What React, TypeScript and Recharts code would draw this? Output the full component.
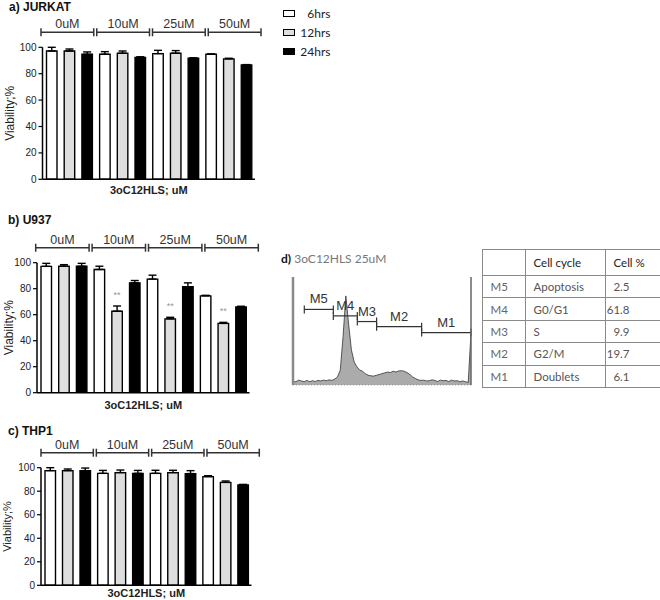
import React from 'react';
import {
  BarChart, Bar, XAxis, YAxis, ErrorBar, LabelList, Legend,
  AreaChart, Area, ReferenceLine,
} from 'recharts';

// ---------- data ----------
const concentrations = ['0uM', '10uM', '25uM', '50uM'];
const timeLabels = ['6hrs', '12hrs', '24hrs'];
const yTicks = [0, 20, 40, 60, 80, 100];

const jurkat6h = [97.2, 94.7, 95.2, 94.7];
const jurkat6hErr = [2.8, 2.0, 2.5, 0.3];
const jurkat12h = [97.2, 95.5, 95.5, 91.2];
const jurkat12hErr = [1.5, 1.7, 2.0, 0.5];
const jurkat24h = [94.7, 92.4, 91.7, 86.6];
const jurkat24hErr = [1.8, 0.4, 0.3, 0.3];

const u937_6h = [97.2, 94.8, 87.4, 74.5];
const u937_6hErr = [2.3, 2.5, 3.0, 0.4];
const u937_12h = [97.3, 62.7, 56.8, 53.3];
const u937_12hErr = [1.2, 4.0, 1.2, 0.8];
const u937_24h = [97.3, 84.5, 81.5, 66.0];
const u937_24hErr = [2.2, 1.8, 3.0, 0.5];
const u937_12hSig = ['', '**', '**', '**'];

const thp1_6h = [97.5, 95.2, 95.2, 92.4];
const thp1_6hErr = [2.5, 2.5, 2.6, 0.8];
const thp1_12h = [97.5, 95.8, 95.8, 87.5];
const thp1_12hErr = [1.4, 2.2, 2.0, 1.2];
const thp1_24h = [97.5, 95.2, 95.0, 85.3];
const thp1_24hErr = [2.2, 2.5, 2.5, 0.5];

// histogram (d): counts per bin of 16 channels, channels 0..1024
const histBinWidth = 16;
const histCounts = [
  14, 12, 18, 15, 12, 17, 12, 16, 13, 17, 15, 18, 16, 19, 17, 22,
  30, 55, 180, 330, 225, 130, 85, 67, 55, 51, 42, 36, 34, 33, 36, 39,
  42, 45, 48, 46, 51, 48, 52, 53, 51, 46, 39, 30, 24, 19, 17, 18,
  15, 16, 19, 17, 13, 18, 16, 17, 13, 18, 15, 16, 12, 15, 12, 10, 194,
];
const markerNames = ['M5', 'M4', 'M3', 'M2', 'M1'];
const markerStart = [65, 232, 370, 481, 740];
const markerEnd = [232, 370, 481, 740, 1024];
const markerLevel = [280, 256, 235, 216, 194];

const phaseNames = ['Apoptosis', 'G0/G1', 'S', 'G2/M', 'Doublets'];
const phasePercent = ['2.5', '61.8', '9.9', '19.7', '6.1'];

// ---------- styles ----------
const FILLS = ['#ffffff', '#dedede', '#000000'];
const SANS = '"Liberation Sans", Arial, sans-serif';
const CAL = 'Lato, "Open Sans", sans-serif';

const buildRows = (a: number[], ae: number[], b: number[], be: number[], c: number[], ce: number[], sig?: string[]) =>
  concentrations.map((conc, i) => ({
    conc,
    h6: a[i], e6: [0, ae[i]],
    h12: b[i], e12: [0, be[i]],
    h24: c[i], e24: [0, ce[i]],
    sig: sig ? sig[i] : '',
  }));

const jurkatRows = buildRows(jurkat6h, jurkat6hErr, jurkat12h, jurkat12hErr, jurkat24h, jurkat24hErr);
const u937Rows = buildRows(u937_6h, u937_6hErr, u937_12h, u937_12hErr, u937_24h, u937_24hErr, u937_12hSig);
const thp1Rows = buildRows(thp1_6h, thp1_6hErr, thp1_12h, thp1_12hErr, thp1_24h, thp1_24hErr);

const histData = histCounts.map((count, i) => ({ channel: i * histBinWidth, count }));

const renderLegend = () => (
  <div style={{ fontFamily: CAL, fontSize: 12, color: '#222' }}>
    {timeLabels.map((t, i) => (
      <div key={t} style={{ display: 'flex', alignItems: 'center', height: 19 }}>
        <span style={{ display: 'inline-block', width: 10, height: 5, border: '1.5px solid #000', background: FILLS[i] }} />
        <span style={{ display: 'inline-block', width: 36, textAlign: 'right' }}>{t}</span>
      </div>
    ))}
  </div>
);

type PanelProps = {
  rows: any[]; top: number; width: number; height: number;
  plotLeft: number; plotRight: number; plotTop: number; plotBottom: number;
  bracketStart: number; bracketEnd: number; barGap: number;
  xLabelDy: number; yLabelX: number; yLabelSize: number;
  errs12?: number[]; legend?: boolean;
};

function ViabilityPanel(p: PanelProps) {
  const topAxisH = p.plotTop - p.top;
  const bottomAxisH = p.height - (p.plotBottom - p.top);
  const padLeft = -(p.plotLeft - (p.bracketStart - 1.5));
  const padRight = -((p.bracketEnd + 1.5) - p.plotRight);
  const half = ((p.bracketEnd + 1.5) - (p.bracketStart - 1.5)) / 8;
  const plotH = p.plotBottom - p.plotTop;

  const bracketTick = (t: any) => {
    const { x, y, payload } = t;
    const by = y - 15;
    const x1 = x - half + 1.5;
    const x2 = x + half - 1.5;
    return (
      <g>
        <line x1={x1} y1={by} x2={x2} y2={by} stroke="#333" strokeWidth={1.5} />
        <line x1={x1} y1={by - 4} x2={x1} y2={by + 4} stroke="#333" strokeWidth={1.5} />
        <line x1={x2} y1={by - 4} x2={x2} y2={by + 4} stroke="#333" strokeWidth={1.5} />
        <text x={x} y={by - 4} textAnchor="middle" fontSize={12.5} fill="#333" fontFamily={SANS}>{payload.value}</text>
      </g>
    );
  };

  const sigContent = (lp: any) => {
    const vb = lp.viewBox ?? lp;
    const x = vb.x ?? lp.x;
    const y = vb.y ?? lp.y;
    const w = vb.width ?? lp.width;
    const v = lp.value;
    const idx = lp.index;
    if (!v || !p.errs12 || idx == null) return null;
    const ey = y - (p.errs12[idx] * plotH) / 100;
    return <text x={x + w / 2} y={ey - 8} textAnchor="middle" fontSize={9} fill="#999" fontFamily={SANS}>{v}</text>;
  };

  return (
    <div style={{ position: 'absolute', left: 0, top: p.top }}>
      <BarChart
        width={p.width}
        height={p.height}
        data={p.rows}
        margin={{ top: 0, right: p.width - p.plotRight, bottom: 0, left: 0 }}
        barGap={p.barGap}
        barSize={10.5}
      >
        <XAxis
          xAxisId="t" orientation="top" dataKey="conc" height={topAxisH}
          axisLine={false} tickLine={false} tickSize={0} tickMargin={0}
          padding={{ left: padLeft, right: padRight }} interval={0}
          tick={bracketTick}
        />
        <XAxis
          xAxisId="b" dataKey="conc" height={bottomAxisH} tick={false} tickLine={false}
          axisLine={{ stroke: '#000', strokeWidth: 1.5 }}
          label={{ value: '3oC12HLS; uM', position: 'insideTop', offset: p.xLabelDy - 4, fontSize: 11, fontWeight: 'bold', fill: '#222', fontFamily: SANS }}
        />
        <YAxis
          width={p.plotLeft} domain={[0, 100]} ticks={yTicks} allowDataOverflow interval={0}
          axisLine={{ stroke: '#000', strokeWidth: 1.5 }} tickLine={{ stroke: '#000', strokeWidth: 1.2 }}
          tickSize={4} tickMargin={2}
          tick={{ fontSize: 10, fill: '#222', fontFamily: SANS }}
          label={{ value: 'Viability;%', angle: -90, position: 'insideLeft', offset: p.yLabelX, fontSize: p.yLabelSize, fill: '#222', fontFamily: SANS, style: { textAnchor: 'middle' } }}
        />
        <Bar xAxisId="b" dataKey="h6" fill={FILLS[0]} stroke="#000" strokeWidth={1.4} isAnimationActive={false}>
          <ErrorBar dataKey="e6" direction="y" width={4} stroke="#000" strokeWidth={1.4} />
        </Bar>
        <Bar xAxisId="b" dataKey="h12" fill={FILLS[1]} stroke="#000" strokeWidth={1.4} isAnimationActive={false}>
          <ErrorBar dataKey="e12" direction="y" width={4} stroke="#000" strokeWidth={1.4} />
          {p.errs12 ? <LabelList dataKey="sig" content={sigContent} /> : null}
        </Bar>
        <Bar xAxisId="b" dataKey="h24" fill={FILLS[2]} stroke="#000" strokeWidth={1.4} isAnimationActive={false}>
          <ErrorBar dataKey="e24" direction="y" width={4} stroke="#000" strokeWidth={1.4} />
        </Bar>
        {p.legend ? (
          <Legend
            layout="horizontal" verticalAlign="middle" align="center"
            content={renderLegend}
            wrapperStyle={{ left: 282.5, top: 3.5, width: 60, height: 60 }}
          />
        ) : null}
      </BarChart>
    </div>
  );
}

const markerShape = (name: string) => (lp: any) => {
  const { x1, y1, x2 } = lp;
  return (
    <g>
      <line x1={x1} y1={y1} x2={x2} y2={y1} stroke="#333" strokeWidth={1.2} />
      <line x1={x1} y1={y1 - 4} x2={x1} y2={y1 + 4} stroke="#333" strokeWidth={1.2} />
      <line x1={x2} y1={y1 - 4} x2={x2} y2={y1 + 4} stroke="#333" strokeWidth={1.2} />
      <text x={(x1 + x2) / 2} y={y1 - 6} textAnchor="middle" fontSize={13} fill="#333" fontFamily={SANS}>{name}</text>
    </g>
  );
};

const titleStyle: React.CSSProperties = {
  position: 'absolute', fontFamily: SANS, fontWeight: 'bold', fontSize: 12, lineHeight: '14px', color: '#111', whiteSpace: 'nowrap',
};

const cellBase: React.CSSProperties = { border: '1px solid #8a8a8a', padding: 0, paddingLeft: 8, textAlign: 'left' };

export default function App() {
  return (
    <div style={{ position: 'absolute', left: 0, top: 0, width: 660, height: 600, background: '#fff', fontFamily: SANS, overflow: 'hidden' }}>
      <ViabilityPanel
        rows={jurkatRows} top={0} width={345} height={205}
        plotLeft={42.5} plotRight={255} plotTop={47.3} plotBottom={179.3}
        bracketStart={41} bracketEnd={261} barGap={7.2}
        xLabelDy={10.7} yLabelX={10} yLabelSize={12} legend
      />
      <ViabilityPanel
        rows={u937Rows} top={228} width={275} height={185}
        plotLeft={37} plotRight={249.5} plotTop={262.7} plotBottom={392.7}
        bracketStart={35.7} bracketEnd={258.3} barGap={7.2}
        xLabelDy={12} yLabelX={8.5} yLabelSize={12} errs12={u937_12hErr}
      />
      <ViabilityPanel
        rows={thp1Rows} top={420} width={275} height={180}
        plotLeft={41} plotRight={251.5} plotTop={467.7} plotBottom={585.3}
        bracketStart={41} bracketEnd={259.3} barGap={7}
        xLabelDy={8} yLabelX={7.5} yLabelSize={11}
      />

      <div style={{ position: 'absolute', left: 280, top: 270 }}>
        <AreaChart width={193} height={118} data={histData} margin={{ top: 7, right: 0, bottom: 0, left: 0 }}>
          <XAxis dataKey="channel" type="number" domain={[0, 1024]} ticks={[]} tick={false} tickLine={false} height={3}
            axisLine={{ stroke: '#999', strokeDasharray: '1 2' }} allowDataOverflow />
          <YAxis yAxisId="l" domain={[0, 400]} ticks={[0, 100, 200, 300, 400]} tick={false} tickSize={3} width={13}
            axisLine={{ stroke: '#8a8a8a', strokeWidth: 2.5 }} tickLine={{ stroke: '#777' }} allowDataOverflow />
          <YAxis yAxisId="r" orientation="right" domain={[0, 400]} tick={false} tickLine={false} width={2}
            axisLine={{ stroke: '#666', strokeWidth: 1.5 }} allowDataOverflow />
          <Area yAxisId="l" type="linear" dataKey="count" stroke="#333" strokeWidth={0.8} fill="#ababab" fillOpacity={1} isAnimationActive={false} />
          {markerNames.map((m, i) => (
            <ReferenceLine
              key={m} yAxisId="l"
              segment={[{ x: markerStart[i], y: markerLevel[i] }, { x: markerEnd[i], y: markerLevel[i] }]}
              shape={markerShape(m)}
            />
          ))}
        </AreaChart>
      </div>

      <table style={{ position: 'absolute', left: 481.5, top: 249, width: 178, borderCollapse: 'collapse', fontFamily: CAL, fontSize: 11.5, tableLayout: 'fixed' }}>
        <colgroup>
          <col style={{ width: 43 }} />
          <col style={{ width: 80 }} />
          <col style={{ width: 55 }} />
        </colgroup>
        <tbody>
          <tr style={{ height: 26 }}>
            <td style={cellBase}></td>
            <td style={{ ...cellBase, color: '#222' }}>Cell cycle</td>
            <td style={{ ...cellBase, color: '#222' }}>Cell %</td>
          </tr>
          {markerNames.map((m, i) => (
            <tr key={m} style={{ height: 22.4 }}>
              <td style={{ ...cellBase, color: '#666' }}>{m}</td>
              <td style={{ ...cellBase, color: '#555' }}>{phaseNames[i]}</td>
              <td style={{ ...cellBase, color: '#555', textAlign: 'right', paddingRight: 30, paddingLeft: 0 }}>{phasePercent[i]}</td>
            </tr>
          ))}
        </tbody>
      </table>

      <div style={{ ...titleStyle, left: 9, top: 0 }}>a) JURKAT</div>
      <div style={{ ...titleStyle, left: 8, top: 213 }}>b) U937</div>
      <div style={{ ...titleStyle, left: 8, top: 424 }}>c) THP1</div>
      <div style={{ ...titleStyle, left: 281, top: 252, fontWeight: 'normal', fontFamily: CAL }}>
        <span style={{ fontWeight: 'bold', color: '#111' }}>d)</span>
        <span style={{ color: '#777' }}> 3oC12HLS 25uM</span>
      </div>
    </div>
  );
}
